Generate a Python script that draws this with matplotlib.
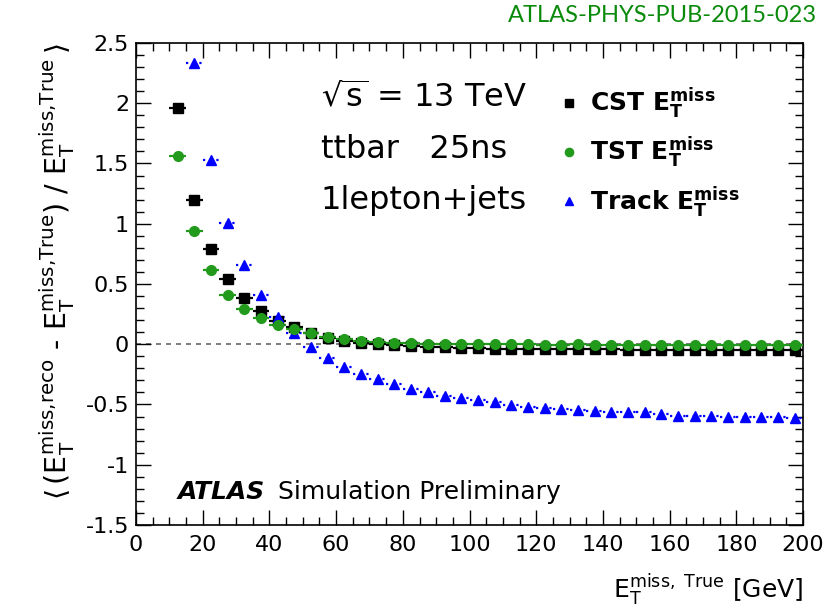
import matplotlib
matplotlib.use('Agg')
import matplotlib.pyplot as plt
from matplotlib.ticker import MultipleLocator

plt.rcParams['font.family'] = ['DejaVu Sans']
plt.rcParams['mathtext.default'] = 'regular'

# bin centres of the true MET (5 GeV bins)
met_true = [12.5, 17.5, 22.5, 27.5, 32.5, 37.5, 42.5, 47.5, 52.5, 57.5,
            62.5, 67.5, 72.5, 77.5, 82.5, 87.5, 92.5, 97.5, 102.5, 107.5,
            112.5, 117.5, 122.5, 127.5, 132.5, 137.5, 142.5, 147.5, 152.5, 157.5,
            162.5, 167.5, 172.5, 177.5, 182.5, 187.5, 192.5, 197.5]
bin_half_width = 2.5

cst = [1.96, 1.20, 0.79, 0.54, 0.385, 0.275, 0.19, 0.14, 0.09, 0.055,
       0.028, 0.011, 0.0, -0.008, -0.013, -0.02, -0.027, -0.032, -0.035, -0.037,
       -0.039, -0.040, -0.041, -0.042, -0.042, -0.043, -0.043, -0.044, -0.044, -0.044,
       -0.045, -0.045, -0.045, -0.045, -0.046, -0.046, -0.046, -0.046]
tst = [1.56, 0.94, 0.615, 0.41, 0.296, 0.22, 0.158, 0.125, 0.09, 0.062,
       0.042, 0.028, 0.02, 0.014, 0.01, 0.005, 0.002, 0.0, -0.001, -0.002,
       -0.002, -0.002, -0.003, -0.003, -0.002, -0.003, -0.003, -0.004, -0.003, -0.004,
       -0.004, -0.003, -0.004, -0.004, -0.004, -0.005, -0.004, -0.004]
# first track bin is off scale
track_x = met_true[1:]
track = [2.33, 1.53, 1.01, 0.66, 0.41, 0.23, 0.09, -0.025, -0.114, -0.19,
         -0.244, -0.29, -0.327, -0.368, -0.40, -0.43, -0.449, -0.465, -0.48, -0.507,
         -0.518, -0.529, -0.537, -0.543, -0.556, -0.565, -0.565, -0.565, -0.579, -0.592,
         -0.592, -0.598, -0.603, -0.603, -0.603, -0.606, -0.609]

green = '#229a1c'
blue = '#0000ff'

fig = plt.figure(figsize=(8.27, 6.14), dpi=100)
ax = fig.add_axes([0.1645, 0.145, 0.8065, 0.785])

ax.axhline(0, color='#666666', ls=(0, (3, 3)), lw=1.2, zorder=1)

ax.errorbar(met_true, cst, xerr=bin_half_width, fmt='none', ecolor='black', elinewidth=1.6, zorder=2)
ax.errorbar(met_true, tst, xerr=bin_half_width, fmt='none', ecolor=green, elinewidth=1.6, zorder=3)
eb = ax.errorbar(track_x, track, xerr=bin_half_width, fmt='none', ecolor=blue, elinewidth=1.6, zorder=2)
eb[2][0].set_linestyle((0, (1, 2)))

h1, = ax.plot(met_true, cst, 's', color='black', ms=6.8, zorder=4, label=r'CST $E_T^{miss}$')
h2, = ax.plot(met_true, tst, 'o', color=green, ms=7, zorder=5, label=r'TST $E_T^{miss}$')
h3, = ax.plot(track_x, track, '^', color=blue, ms=7.5, zorder=4, label=r'Track $E_T^{miss}$')

ax.set_xlim(0, 200)
ax.set_ylim(-1.5, 2.5)
ax.xaxis.set_major_locator(MultipleLocator(20))
ax.xaxis.set_minor_locator(MultipleLocator(5))
ax.yaxis.set_major_locator(MultipleLocator(0.5))
ax.yaxis.set_minor_locator(MultipleLocator(0.1))
ax.set_yticks([-1.5, -1, -0.5, 0, 0.5, 1, 1.5, 2, 2.5])
ax.set_yticklabels(['-1.5', '-1', '-0.5', '0', '0.5', '1', '1.5', '2', '2.5'])
ax.tick_params(which='both', direction='in', top=True, right=True, labelsize=16, width=1)
ax.tick_params(which='major', length=11)
ax.tick_params(axis='x', which='major', pad=7)
ax.tick_params(axis='y', which='major', pad=5)
ax.tick_params(which='minor', length=5.5)
for s in ax.spines.values():
    s.set_linewidth(1.2)

ax.set_xlabel(r'$E_T^{miss,\ True}$ [GeV]', fontsize=18, loc='right', labelpad=12)
ax.set_ylabel(r'$\langle\,(E_T^{miss{,}reco}$ - $E_T^{miss{,}True}$) / $E_T^{miss{,}True}\,\rangle$',
              fontsize=20.5, loc='top', labelpad=6)

ax.text(0.277, 0.886, r'$\sqrt{s}$ = 13 TeV', transform=ax.transAxes, fontsize=23, va='center')
ax.text(0.277, 0.778, 'ttbar   25ns', transform=ax.transAxes, fontsize=23, va='center')
ax.text(0.277, 0.674, '1lepton+jets', transform=ax.transAxes, fontsize=23, va='center')

ax.text(0.062, 0.068, 'ATLAS', transform=ax.transAxes, fontsize=18, weight='bold',
        style='italic', va='center')
ax.text(0.213, 0.068, 'Simulation Preliminary', transform=ax.transAxes, fontsize=18, va='center')

ax.legend(handles=[h1, h2, h3], loc='upper left', bbox_to_anchor=(0.6, 0.958),
          frameon=False, prop={'size': 18, 'weight': 'bold'}, handlelength=0.8,
          handletextpad=0.45, labelspacing=0.55, markerscale=0.85)

fig.text(0.988, 0.992, 'ATLAS-PHYS-PUB-2015-023', color='#0a8a0a', fontsize=17,
         family='Lato', ha='right', va='top')

fig.savefig('out.png', dpi=100)
